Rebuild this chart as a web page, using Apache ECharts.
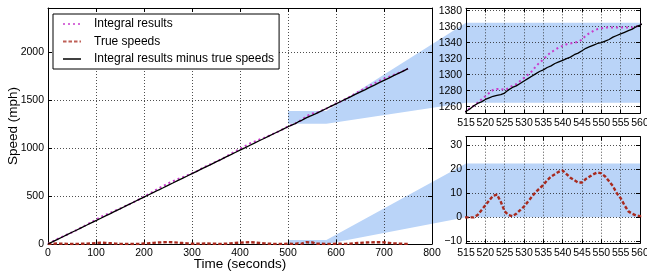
<!DOCTYPE html>
<html>
<head>
<meta charset="utf-8">
<script src="https://cdn.jsdelivr.net/npm/echarts@6/dist/echarts.min.js"></script>
<style>
  html, body { margin: 0; padding: 0; background: #fff; }
  #chart { width: 647px; height: 271px; }
</style>
</head>
<body>
<div id="chart"></div>
<script>
// time stamps (s): every 10 s in the main plot, every 1 s inside the zoomed window
const times = [
  0, 10, 20, 30, 40, 50, 60, 70, 80, 90, 100, 110, 120, 130, 140, 150, 160, 170, 180, 190,
  200, 210, 220, 230, 240, 250, 260, 270, 280, 290, 300, 310, 320, 330, 340, 350, 360, 370, 380, 390,
  400, 410, 420, 430, 440, 450, 460, 470, 480, 490, 500, 510,
  515, 516, 517, 518, 519, 520, 521, 522, 523, 524, 525, 526, 527, 528, 529, 530, 531, 532, 533, 534,
  535, 536, 537, 538, 539, 540, 541, 542, 543, 544, 545, 546, 547, 548, 549, 550, 551, 552, 553, 554,
  555, 556, 557, 558, 559, 560,
  570, 580, 590, 600, 610, 620, 630, 640, 650, 660, 670, 680, 690, 700, 710, 720, 730, 740, 750
];
const integralResults = [
  0, 27, 54, 76, 99, 122, 146, 173, 199, 226, 254, 281, 305, 325, 346, 368, 392, 415, 440, 466,
  494, 521, 549, 578, 604, 631, 653, 674, 694, 714, 736, 759, 786, 812, 834, 857, 880, 907, 935, 964,
  991, 1018, 1045, 1066, 1086, 1105, 1127, 1149, 1172, 1198, 1224, 1244,
  1255, 1258, 1261, 1265, 1269, 1273, 1277, 1281, 1282, 1282, 1281, 1283, 1286, 1288, 1292, 1296, 1300, 1304, 1310, 1315,
  1319, 1324, 1328, 1331, 1334, 1336, 1338, 1339, 1340, 1341, 1344, 1349, 1352, 1355, 1357, 1358, 1359, 1359, 1359, 1359,
  1359, 1359, 1359, 1359, 1360, 1362,
  1389, 1411, 1437, 1463, 1486, 1510, 1537, 1566, 1594, 1621, 1648, 1673, 1699, 1721, 1740, 1760, 1781, 1803, 1827
];
const trueSpeeds = [
  0, 3, 5, 3, 1, 0, 0, 2, 4, 6, 10, 13, 12, 8, 4, 2, 1, 0, 0, 2,
  5, 8, 12, 16, 18, 20, 18, 14, 10, 6, 3, 2, 4, 6, 4, 2, 1, 3, 7, 11,
  14, 17, 19, 16, 11, 6, 3, 1, 0, 1, 3, 1,
  0, 0, 0, 1, 3, 5, 7, 9, 9.5, 6.5, 2.5, 1, 0.5, 1.5, 3, 4.5, 6.5, 8.5, 10.5, 12,
  13.5, 15.5, 17, 18, 19, 19.5, 18, 16.5, 15.5, 14.5, 14.5, 16, 17, 18, 18.7, 18.3, 17, 15, 13, 10,
  8, 5, 2.5, 1.5, 0.8, 0.5,
  2, 0, 1, 3, 2, 1, 4, 8, 12, 15, 17, 18, 19, 17, 12, 7, 4, 2, 1
];
const integralMinusTrue = [
  0, 24, 49, 73, 98, 122, 146, 171, 195, 220, 244, 268, 293, 317, 342, 366, 391, 415, 440, 464,
  489, 513, 537, 562, 586, 611, 635, 660, 684, 708, 733, 757, 782, 806, 830, 855, 879, 904, 928, 953,
  977, 1001, 1026, 1050, 1075, 1099, 1124, 1148, 1172, 1197, 1221, 1243,
  1254, 1257, 1261, 1264, 1266, 1269, 1271, 1273, 1274, 1275, 1277, 1281, 1284, 1286, 1289, 1292, 1295, 1298, 1301, 1304,
  1306, 1309, 1311, 1314, 1316, 1318, 1320, 1322, 1325, 1327, 1330, 1333, 1335, 1337, 1339, 1340, 1342, 1344, 1347, 1349,
  1351, 1353, 1355, 1357, 1360, 1362,
  1387, 1411, 1436, 1460, 1484, 1509, 1533, 1558, 1582, 1606, 1631, 1655, 1680, 1704, 1728, 1753, 1777, 1801, 1826
];

const mainYTicks = [0, 500, 1000, 1500, 2000];
const topInsetYTicks = [1260, 1280, 1300, 1320, 1340, 1360, 1380];
const bottomInsetYTicks = [-10, 0, 10, 20, 30];

// zoom boxes in the main plot [x0, x1, y0, y1] and shaded bands in the insets [y0, y1]
const zoomBoxTop = [500, 580, 1253, 1385];
const zoomBoxBottom = [500, 580, 0, 42];
const insetBandTop = [1265, 1365];
const insetBandBottom = [0, 22.4];

const FONT = 'Liberation Sans';
const BLUE = '#bad4f8';

const chart = echarts.init(document.getElementById('chart'), null, { renderer: 'canvas' });

const axisLine = { show: true, onZero: false, lineStyle: { color: '#000', width: 1 } };
const tick = { show: true, inside: true, length: 4, lineStyle: { color: '#000', width: 1 } };
const gridLine = { show: true, lineStyle: { color: '#222', width: 0.8, type: [1, 2] } };
const label = { fontFamily: FONT, fontSize: 10.5, color: '#000' };
const nameStyle = { fontFamily: FONT, fontSize: 13.5, color: '#000' };
const minusSign = v => (v < 0 ? '\u2212' + (-v) : String(v));

function bottomX(gi, min, max, interval, extra) {
  return Object.assign({
    type: 'value', gridIndex: gi, position: 'bottom', min, max, interval,
    axisLine, axisTick: tick, splitLine: gridLine,
    axisLabel: Object.assign({ margin: 4 }, label)
  }, extra || {});
}
function topX(gi, min, max, interval) {
  return {
    type: 'value', gridIndex: gi, position: 'top', min, max, interval,
    axisLine, axisTick: tick, splitLine: { show: false }, axisLabel: { show: false }
  };
}
function leftY(gi, min, max, ticks, extra) {
  const ax = {
    type: 'value', gridIndex: gi, position: 'left', min, max,
    axisLine,
    axisTick: Object.assign({ customValues: ticks }, tick),
    splitLine: Object.assign({ customValues: ticks }, gridLine),
    axisLabel: Object.assign({ margin: 4, customValues: ticks, formatter: minusSign }, label)
  };
  return Object.assign(ax, extra || {});
}
function rightY(gi, min, max, ticks) {
  return {
    type: 'value', gridIndex: gi, position: 'right', min, max,
    axisLine, axisTick: Object.assign({ customValues: ticks }, tick),
    splitLine: { show: false }, axisLabel: { show: false }
  };
}

function pairs(values) {
  return times.map((t, i) => [t, values[i]]);
}

const series = [];
[0, 1, 2].forEach(gi => {
  series.push({
    type: 'line', name: 'Integral results', xAxisIndex: gi, yAxisIndex: gi,
    data: pairs(integralResults), symbol: 'none', showSymbol: false, color: '#c83ccc',
    lineStyle: { color: '#c83ccc', width: 2, type: [2, 3] }, z: 3
  });
  series.push({
    type: 'line', name: 'True speeds', xAxisIndex: gi, yAxisIndex: gi,
    data: pairs(trueSpeeds), symbol: 'none', showSymbol: false, color: '#a82a1e',
    lineStyle: { color: '#a82a1e', width: 2.4, type: [3.5, 2] }, z: 4
  });
  series.push({
    type: 'line', name: 'Integral results minus true speeds', xAxisIndex: gi, yAxisIndex: gi,
    data: pairs(integralMinusTrue), symbol: 'none', showSymbol: false, color: '#000',
    lineStyle: { color: '#000', width: 1.3 }, z: 5
  });
});

const gridBase = { outerBoundsMode: 'none', containLabel: false };

chart.setOption({
  animation: false,
  backgroundColor: '#fff',
  textStyle: { fontFamily: FONT },
  grid: [
    Object.assign({ left: 48, top: 8, width: 384, height: 236 }, gridBase),
    Object.assign({ left: 466, top: 8.3, width: 174, height: 105 }, gridBase),
    Object.assign({ left: 466, top: 136.7, width: 174, height: 106.6 }, gridBase)
  ],
  legend: {
    data: ['Integral results', 'True speeds', 'Integral results minus true speeds'],
    orient: 'vertical', left: 53, top: 14,
    itemWidth: 18, itemHeight: 14, itemGap: 3.5,
    padding: [3, 5, 3, 9],
    borderColor: '#000', borderWidth: 1, borderRadius: 0,
    backgroundColor: '#fff',
    selectedMode: false,
    itemStyle: { opacity: 0 },
    lineStyle: { opacity: 0.75 },
    textStyle: { fontFamily: FONT, fontSize: 12, color: '#000', lineHeight: 14, padding: [0, 0, 0, 8] }
  },
  xAxis: [
    bottomX(0, 0, 800, 100, {
      name: 'Time (seconds)', nameLocation: 'middle', nameGap: 13, nameMoveOverlap: false,
      nameTextStyle: nameStyle
    }),
    bottomX(1, 515, 560, 5),
    bottomX(2, 515, 560, 5),
    topX(0, 0, 800, 100),
    topX(1, 515, 560, 5),
    topX(2, 515, 560, 5)
  ],
  yAxis: [
    leftY(0, 0, 2458, mainYTicks, {
      name: 'Speed (mph)', nameLocation: 'middle', nameGap: 28, nameMoveOverlap: false,
      nameTextStyle: nameStyle
    }),
    leftY(1, 1251.7, 1383, topInsetYTicks),
    leftY(2, -10.8, 33.6, bottomInsetYTicks),
    rightY(0, 0, 2458, mainYTicks),
    rightY(1, 1251.7, 1383, topInsetYTicks),
    rightY(2, -10.8, 33.6, bottomInsetYTicks)
  ],
  series
});

// shaded zoom connectors, placed with the chart's own axes
function px(gi, x, y) {
  return chart.convertToPixel({ gridIndex: gi }, [x, y]);
}
function connector(box, gi, band) {
  return [
    px(0, box[0], box[3]), px(0, box[1], box[3]),
    px(gi, 515, band[1]), px(gi, 560, band[1]),
    px(gi, 560, band[0]), px(gi, 515, band[0]),
    px(0, box[1], box[2]), px(0, box[0], box[2])
  ];
}
chart.setOption({
  graphic: [
    { type: 'polygon', z: -1, silent: true, shape: { points: connector(zoomBoxTop, 1, insetBandTop) }, style: { fill: BLUE } },
    { type: 'polygon', z: -1, silent: true, shape: { points: connector(zoomBoxBottom, 2, insetBandBottom) }, style: { fill: BLUE } }
  ]
});
</script>
</body>
</html>
